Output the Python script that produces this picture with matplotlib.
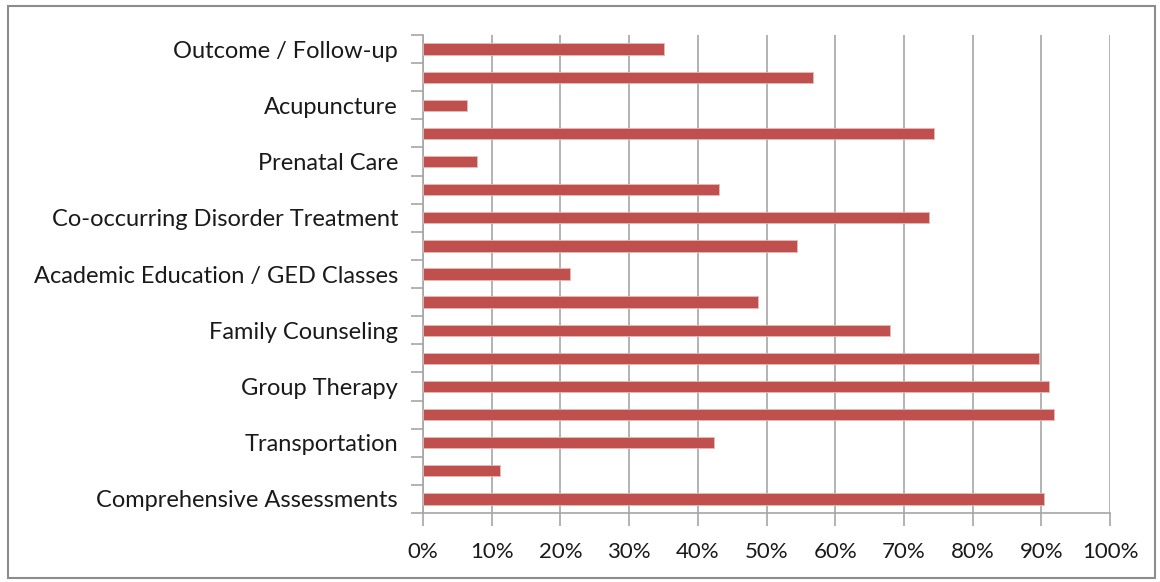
import matplotlib.pyplot as plt
from matplotlib.patches import Rectangle
from matplotlib.ticker import FixedLocator, PercentFormatter

plt.rcParams['font.family'] = ['Lato', 'DejaVu Sans']

# services listed bottom to top; unlabeled rows have an empty name
services = [
    'Comprehensive Assessments', '', 'Transportation', '', 'Group Therapy', '',
    'Family Counseling', '', 'Academic Education / GED Classes', '',
    'Co-occurring Disorder Treatment', '', 'Prenatal Care', '', 'Acupuncture',
    '', 'Outcome / Follow-up',
]
share = [
    0.904, 0.112, 0.423, 0.919, 0.911, 0.897,
    0.680, 0.488, 0.214, 0.544,
    0.737, 0.431, 0.079, 0.744, 0.064,
    0.567, 0.351,
]
x_ticks = [0, 0.1, 0.2, 0.3, 0.4, 0.5, 0.6, 0.7, 0.8, 0.9, 1.0]

fig = plt.figure(figsize=(11.6, 5.82), dpi=100)
ax = fig.add_axes([423 / 1160, 1 - 513 / 582, 687 / 1160, 478 / 582])

pos = list(range(len(services)))
ax.barh(pos, share, height=0.4, color='#C0504D', edgecolor='#E6B9B8',
        linewidth=0.6, zorder=3)

ax.set_xlim(0, 1)
ax.set_ylim(-0.5, len(services) - 0.5)

ax.xaxis.set_major_locator(FixedLocator(x_ticks))
ax.xaxis.set_major_formatter(PercentFormatter(1.0, decimals=0))
ax.grid(axis='x', color='#A6A6A6', linewidth=1.2, zorder=0)

labeled = [i for i, s in enumerate(services) if s]
ax.set_yticks(labeled)
ax.set_yticklabels([services[i] for i in labeled])
ax.set_yticks([i - 0.5 for i in range(len(services) + 1)], minor=True)
ax.tick_params(axis='y', which='major', length=0, pad=18, labelsize=17,
               labelcolor='#1a1a1a')
ax.tick_params(axis='y', which='minor', length=9, width=1.2, color='#A6A6A6')
ax.tick_params(axis='x', length=9, width=1.2, color='#A6A6A6', pad=12,
               labelsize=16, labelcolor='#1a1a1a')

for side in ['top', 'right']:
    ax.spines[side].set_visible(False)
for side in ['left', 'bottom']:
    ax.spines[side].set_color('#A6A6A6')
    ax.spines[side].set_linewidth(1.2)

# outer chart border
fig.patches.append(Rectangle((8 / 1160, 4 / 582), 1147 / 1160, 572 / 582,
                             transform=fig.transFigure, fill=False,
                             edgecolor='#8C8C8C', linewidth=1.5))

fig.savefig('out.png', dpi=100)
